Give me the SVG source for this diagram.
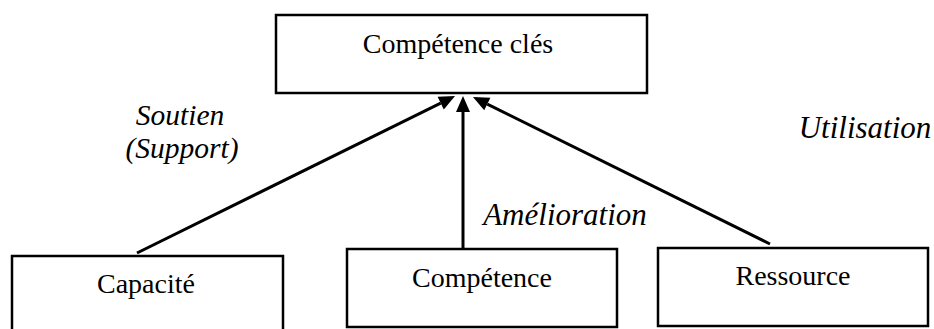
<svg xmlns="http://www.w3.org/2000/svg" width="934" height="329" viewBox="0 0 934 329">
<style>
.box{fill:#fff;stroke:#000;stroke-width:2.5}
text{font-family:'Liberation Serif','Times New Roman',Tinos,'DejaVu Serif',serif;fill:#000;text-anchor:middle}
.t{font-size:28px}
.i{font-size:31px;font-style:italic}
.s{font-size:29.5px}
.c{stroke:#000;stroke-width:3;fill:none;marker-end:url(#ah)}
</style>
<defs>
<marker id="ah" markerUnits="userSpaceOnUse" markerWidth="16" markerHeight="14" refX="0" refY="7" orient="auto" overflow="visible">
<path d="M0,0 L16,7 L0,14 z" fill="#000"/>
</marker>
</defs>
<rect width="934" height="329" fill="#fff"/>
<g id="cles">
<rect class="box" x="276" y="15" width="371" height="78"/>
<text class="t" x="458" y="53">Compétence clés</text>
</g>
<g id="capacite">
<rect class="box" x="12" y="256" width="271" height="84"/>
<text class="t" x="146" y="293">Capacité</text>
</g>
<g id="competence">
<rect class="box" x="347" y="249" width="270" height="78"/>
<text class="t" x="482" y="287">Compétence</text>
</g>
<g id="ressource">
<rect class="box" x="658" y="248" width="270" height="78"/>
<text class="t" x="793" y="285">Ressource</text>
</g>
<g id="connectors">
<line class="c" x1="137" y1="253" x2="440.7" y2="103.1"/>
<line class="c" x1="463" y1="248" x2="463" y2="112"/>
<line class="c" x1="770" y1="244" x2="487.3" y2="104.1"/>
<text class="i s" x="180" y="125">Soutien</text>
<text class="i s" x="182" y="158">(Support)</text>
<text class="i" x="565" y="225">Amélioration</text>
<text class="i" x="865" y="138">Utilisation</text>
</g>
</svg>
